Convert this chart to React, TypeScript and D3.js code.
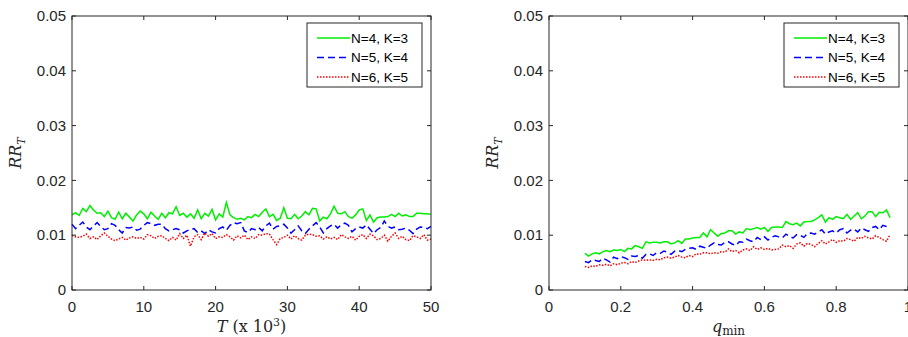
import React from "react";
import * as d3 from "d3";

// ---------- data ----------
const tValues: number[] = d3.range(0, 101).map((i) => i * 0.5); // T (x 10^3)
const qValues: number[] = d3.range(0, 86).map((i) => +(0.1 + i * 0.01).toFixed(2));

const seriesLabels = ["N=4, K=3", "N=5, K=4", "N=6, K=5"];

const leftN4K3 = [
  0.0137, 0.0141, 0.0136, 0.0149, 0.0143, 0.0154, 0.0146, 0.0140, 0.0141, 0.0134,
  0.0144, 0.0132, 0.0129, 0.0142, 0.0130, 0.0140, 0.0133, 0.0126, 0.0137, 0.0144,
  0.0139, 0.0130, 0.0142, 0.0135, 0.0129, 0.0140, 0.0132, 0.0141, 0.0139, 0.0152,
  0.0136, 0.0140, 0.0133, 0.0139, 0.0131, 0.0146, 0.0130, 0.0140, 0.0135, 0.0147,
  0.0128, 0.0139, 0.0133, 0.0160, 0.0137, 0.0132, 0.0129, 0.0131, 0.0128, 0.0134,
  0.0132, 0.0138, 0.0134, 0.0142, 0.0148, 0.0134, 0.0138, 0.0127, 0.0131, 0.0150,
  0.0131, 0.0130, 0.0138, 0.0130, 0.0135, 0.0143, 0.0137, 0.0149, 0.0148, 0.0126,
  0.0133, 0.0130, 0.0139, 0.0153, 0.0140, 0.0139, 0.0143, 0.0134, 0.0131, 0.0137,
  0.0146, 0.0148, 0.0127, 0.0137, 0.0124, 0.0132, 0.0133, 0.0133, 0.0134, 0.0138,
  0.0134, 0.0140, 0.0135, 0.0137, 0.0134, 0.0134, 0.0140, 0.0140, 0.0139, 0.0139, 0.0138,
];
const leftN5K4 = [
  0.0120, 0.0112, 0.0118, 0.0124, 0.0115, 0.0110, 0.0117, 0.0123, 0.0116, 0.0110,
  0.0112, 0.0121, 0.0118, 0.0110, 0.0104, 0.0114, 0.0113, 0.0115, 0.0109, 0.0111,
  0.0118, 0.0123, 0.0121, 0.0118, 0.0120, 0.0120, 0.0112, 0.0108, 0.0110, 0.0112,
  0.0110, 0.0104, 0.0108, 0.0111, 0.0112, 0.0105, 0.0108, 0.0103, 0.0110, 0.0106,
  0.0104, 0.0112, 0.0115, 0.0109, 0.0118, 0.0123, 0.0121, 0.0123, 0.0108, 0.0105,
  0.0112, 0.0110, 0.0114, 0.0108, 0.0117, 0.0122, 0.0111, 0.0116, 0.0117, 0.0120,
  0.0113, 0.0104, 0.0110, 0.0117, 0.0108, 0.0103, 0.0111, 0.0117, 0.0123, 0.0115,
  0.0104, 0.0112, 0.0117, 0.0120, 0.0113, 0.0119, 0.0122, 0.0118, 0.0106, 0.0112,
  0.0115, 0.0113, 0.0119, 0.0111, 0.0103, 0.0110, 0.0114, 0.0126, 0.0116, 0.0113,
  0.0115, 0.0110, 0.0111, 0.0113, 0.0109, 0.0103, 0.0111, 0.0115, 0.0114, 0.0112, 0.0116,
];
const leftN6K5 = [
  0.0100, 0.0097, 0.0096, 0.0098, 0.0102, 0.0094, 0.0097, 0.0092, 0.0099, 0.0104,
  0.0098, 0.0093, 0.0090, 0.0093, 0.0096, 0.0091, 0.0095, 0.0097, 0.0094, 0.0096,
  0.0093, 0.0101, 0.0099, 0.0094, 0.0098, 0.0099, 0.0094, 0.0090, 0.0096, 0.0091,
  0.0103, 0.0094, 0.0100, 0.0080, 0.0097, 0.0101, 0.0092, 0.0104, 0.0098, 0.0103,
  0.0094, 0.0097, 0.0096, 0.0101, 0.0097, 0.0091, 0.0099, 0.0095, 0.0100, 0.0092,
  0.0097, 0.0094, 0.0101, 0.0100, 0.0103, 0.0102, 0.0092, 0.0083, 0.0094, 0.0096,
  0.0100, 0.0093, 0.0099, 0.0094, 0.0091, 0.0100, 0.0102, 0.0101, 0.0098, 0.0099,
  0.0093, 0.0097, 0.0093, 0.0096, 0.0092, 0.0101, 0.0097, 0.0094, 0.0098, 0.0091,
  0.0098, 0.0101, 0.0094, 0.0102, 0.0099, 0.0092, 0.0094, 0.0100, 0.0089, 0.0098,
  0.0104, 0.0094, 0.0098, 0.0092, 0.0090, 0.0099, 0.0097, 0.0094, 0.0101, 0.0091, 0.0093,
];

const rightN4K3 = [
  0.0067, 0.0062, 0.0066, 0.0068, 0.0066, 0.0070, 0.0072, 0.0070, 0.0073, 0.0072,
  0.0074, 0.0070, 0.0076, 0.0075, 0.0081, 0.0079, 0.0076, 0.0088, 0.0086, 0.0087,
  0.0087, 0.0086, 0.0088, 0.0088, 0.0084, 0.0086, 0.0090, 0.0085, 0.0093, 0.0093,
  0.0095, 0.0096, 0.0096, 0.0104, 0.0097, 0.0110, 0.0104, 0.0098, 0.0103, 0.0104,
  0.0108, 0.0108, 0.0102, 0.0106, 0.0104, 0.0112, 0.0110, 0.0112, 0.0114, 0.0111,
  0.0114, 0.0107, 0.0114, 0.0115, 0.0115, 0.0114, 0.0125, 0.0121, 0.0119, 0.0122,
  0.0117, 0.0124, 0.0125, 0.0125, 0.0128, 0.0132, 0.0137, 0.0124, 0.0132, 0.0129,
  0.0134, 0.0132, 0.0130, 0.0138, 0.0129, 0.0135, 0.0141, 0.0130, 0.0135, 0.0143,
  0.0143, 0.0134, 0.0142, 0.0141, 0.0146, 0.0132,
];
const rightN5K4 = [
  0.0052, 0.0050, 0.0055, 0.0054, 0.0052, 0.0058, 0.0055, 0.0051, 0.0060, 0.0057,
  0.0061, 0.0059, 0.0056, 0.0062, 0.0061, 0.0063, 0.0058, 0.0065, 0.0066, 0.0063,
  0.0068, 0.0067, 0.0071, 0.0069, 0.0065, 0.0071, 0.0072, 0.0070, 0.0074, 0.0076,
  0.0077, 0.0074, 0.0080, 0.0078, 0.0076, 0.0082, 0.0086, 0.0083, 0.0082, 0.0087,
  0.0088, 0.0084, 0.0081, 0.0088, 0.0087, 0.0093, 0.0090, 0.0088, 0.0096, 0.0092,
  0.0097, 0.0091, 0.0096, 0.0099, 0.0097, 0.0095, 0.0102, 0.0098, 0.0095, 0.0101,
  0.0100, 0.0096, 0.0103, 0.0104, 0.0102, 0.0106, 0.0110, 0.0102, 0.0106, 0.0108,
  0.0104, 0.0110, 0.0112, 0.0104, 0.0109, 0.0111, 0.0106, 0.0113, 0.0110, 0.0107,
  0.0114, 0.0116, 0.0110, 0.0118, 0.0116, 0.0117,
];
const rightN6K5 = [
  0.0043, 0.0041, 0.0044, 0.0043, 0.0046, 0.0045, 0.0047, 0.0044, 0.0048, 0.0046,
  0.0049, 0.0050, 0.0048, 0.0052, 0.0050, 0.0053, 0.0055, 0.0054, 0.0055, 0.0054,
  0.0056, 0.0055, 0.0059, 0.0060, 0.0058, 0.0060, 0.0063, 0.0060, 0.0059, 0.0063,
  0.0061, 0.0066, 0.0065, 0.0068, 0.0068, 0.0066, 0.0068, 0.0067, 0.0070, 0.0069,
  0.0075, 0.0070, 0.0072, 0.0068, 0.0073, 0.0075, 0.0072, 0.0079, 0.0074, 0.0077,
  0.0074, 0.0076, 0.0073, 0.0074, 0.0075, 0.0082, 0.0079, 0.0081, 0.0076, 0.0084,
  0.0086, 0.0080, 0.0085, 0.0083, 0.0079, 0.0085, 0.0090, 0.0084, 0.0088, 0.0092,
  0.0087, 0.0090, 0.0089, 0.0094, 0.0092, 0.0089, 0.0096, 0.0094, 0.0098, 0.0095,
  0.0093, 0.0099, 0.0096, 0.0092, 0.0089, 0.0101,
];

const yTicks = [0, 0.01, 0.02, 0.03, 0.04, 0.05];
const yTickLabels = ["0", "0.01", "0.02", "0.03", "0.04", "0.05"];
const leftXTicks = [0, 10, 20, 30, 40, 50];
const leftXTickLabels = ["0", "10", "20", "30", "40", "50"];
const rightXTicks = [0, 0.2, 0.4, 0.6, 0.8, 1];
const rightXTickLabels = ["0", "0.2", "0.4", "0.6", "0.8", "1"];

// ---------- styles ----------
const styles = [
  { color: "#00ee00", dash: "none", width: 1.5 },
  { color: "#0000ff", dash: "7,4", width: 1.5 },
  { color: "#ff0000", dash: "1.5,1.5", width: 1.5 },
];
const AX = "#262626";
const FONT = "'Liberation Sans', Arial, sans-serif";
const SERIF = "'DejaVu Serif', 'Liberation Serif', serif";

type PanelProps = {
  left: number;
  width: number;
  xDomain: [number, number];
  xs: number[];
  series: number[][];
  xTicks: number[];
  xTickLabels: string[];
  xTitle: React.ReactNode;
};

const TOP = 16;
const BOTTOM = 290;

function Panel({ left, width, xDomain, xs, series, xTicks, xTickLabels, xTitle }: PanelProps) {
  const x = d3.scaleLinear().domain(xDomain).range([left, left + width]);
  const y = d3.scaleLinear().domain([0, 0.05]).range([BOTTOM, TOP]);
  const line = d3
    .line<[number, number]>()
    .x((d) => x(d[0]))
    .y((d) => y(d[1]));
  const right = left + width;
  const tl = 4;
  const legX = right - 124;
  const legY = 23;
  return (
    <g>
      {series.map((s, i) => (
        <path
          key={i}
          d={line(s.map((v, j) => [xs[j], v] as [number, number])) || ""}
          fill="none"
          stroke={styles[i].color}
          strokeWidth={styles[i].width}
          strokeDasharray={styles[i].dash}
        />
      ))}
      {/* box */}
      <rect x={left} y={TOP} width={width} height={BOTTOM - TOP} fill="none" stroke={AX} strokeWidth={1} />
      {/* y ticks */}
      {yTicks.map((t, i) => (
        <g key={"y" + i}>
          <line x1={left} x2={left + tl} y1={y(t)} y2={y(t)} stroke={AX} />
          <line x1={right} x2={right - tl} y1={y(t)} y2={y(t)} stroke={AX} />
          <text x={left - 6} y={y(t)} dy="0.35em" textAnchor="end" fontFamily={FONT} fontSize={15} fill={AX}>
            {yTickLabels[i]}
          </text>
        </g>
      ))}
      {/* x ticks */}
      {xTicks.map((t, i) => (
        <g key={"x" + i}>
          <line x1={x(t)} x2={x(t)} y1={BOTTOM} y2={BOTTOM - tl} stroke={AX} />
          <line x1={x(t)} x2={x(t)} y1={TOP} y2={TOP + tl} stroke={AX} />
          <text x={x(t)} y={BOTTOM + 17} dy="0.35em" textAnchor="middle" fontFamily={FONT} fontSize={15} fill={AX}>
            {xTickLabels[i]}
          </text>
        </g>
      ))}
      {/* y title */}
      <text
        transform={`translate(${left - 51},${(TOP + BOTTOM) / 2}) rotate(-90)`}
        textAnchor="middle"
        fontFamily={SERIF}
        fontSize={16}
        fill={AX}
      >
        <tspan fontStyle="italic">RR</tspan>
        <tspan fontStyle="italic" fontSize={11} dy={4}>T</tspan>
      </text>
      {/* x title */}
      <text x={left + width / 2} y={BOTTOM + 42} textAnchor="middle" fontFamily={SERIF} fontSize={16} fill={AX}>
        {xTitle}
      </text>
      {/* legend */}
      <rect x={legX} y={legY} width={115} height={64} fill="#fff" stroke={AX} strokeWidth={1} />
      {seriesLabels.map((lab, i) => {
        const ly = legY + 15 + i * 19.5;
        return (
          <g key={"l" + i}>
            <line
              x1={legX + 10}
              x2={legX + 43}
              y1={ly}
              y2={ly}
              stroke={styles[i].color}
              strokeWidth={styles[i].width}
              strokeDasharray={styles[i].dash}
            />
            <text x={legX + 44} y={ly} dy="0.35em" fontFamily={FONT} fontSize={13.5} fill="#000">
              {lab}
            </text>
          </g>
        );
      })}
    </g>
  );
}

export default function App() {
  return (
    <svg width={908} height={337} style={{ position: "absolute", left: 0, top: 0, background: "#fff" }}>
      <rect x={0} y={0} width={908} height={337} fill="#fff" />
      <Panel
        left={72}
        width={359}
        xDomain={[0, 50]}
        xs={tValues}
        series={[leftN4K3, leftN5K4, leftN6K5]}
        xTicks={leftXTicks}
        xTickLabels={leftXTickLabels}
        xTitle={
          <>
            <tspan fontStyle="italic">T</tspan>
            <tspan> (x 10</tspan>
            <tspan fontSize={11} dy={-6}>3</tspan>
            <tspan dy={6}>)</tspan>
          </>
        }
      />
      <Panel
        left={549}
        width={359}
        xDomain={[0, 1]}
        xs={qValues}
        series={[rightN4K3, rightN5K4, rightN6K5]}
        xTicks={rightXTicks}
        xTickLabels={rightXTickLabels}
        xTitle={
          <>
            <tspan fontStyle="italic">q</tspan>
            <tspan fontSize={12} dy={3}>min</tspan>
          </>
        }
      />
    </svg>
  );
}
